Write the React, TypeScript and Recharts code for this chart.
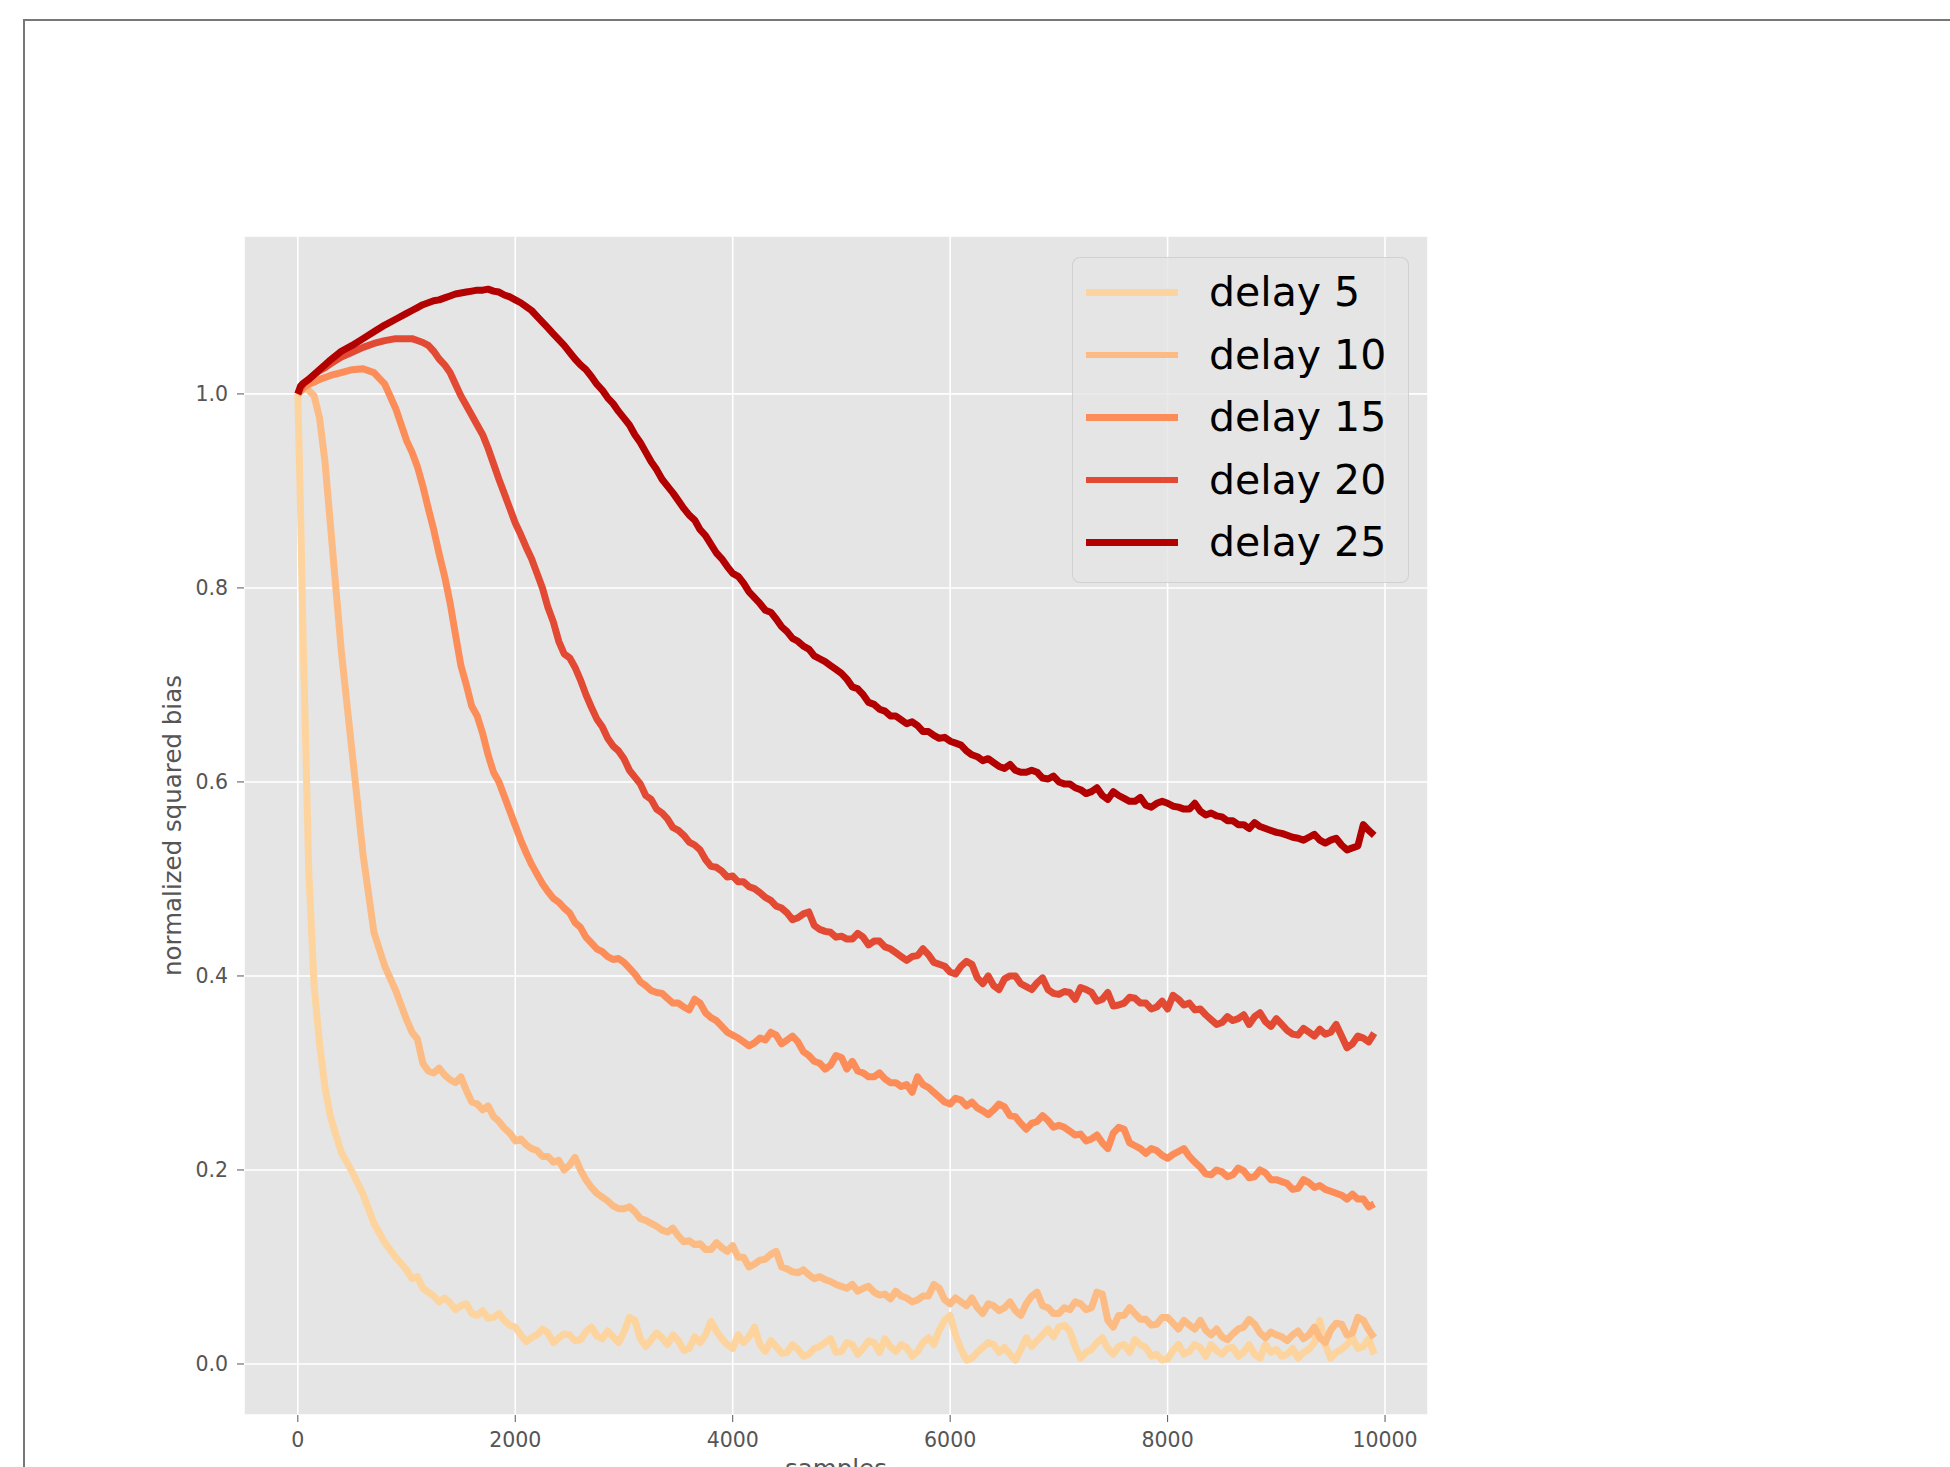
import React from "react";
import { LineChart, Line, XAxis, YAxis, CartesianGrid, Legend } from "recharts";

// sample positions: dense at the start where the curves drop fast, then every 50
const samples = [
  0, 25, 50, 75, 100, 150, 200, 250, 300, 400, 500, 600, 700, 800, 900,
  1000, 1050, 1100, 1150, 1200, 1250, 1300, 1350, 1400, 1450, 1500, 1550, 1600, 1650, 1700, 1750, 1800, 1850, 1900, 1950,
  2000, 2050, 2100, 2150, 2200, 2250, 2300, 2350, 2400, 2450, 2500, 2550, 2600, 2650, 2700, 2750, 2800, 2850, 2900, 2950,
  3000, 3050, 3100, 3150, 3200, 3250, 3300, 3350, 3400, 3450, 3500, 3550, 3600, 3650, 3700, 3750, 3800, 3850, 3900, 3950,
  4000, 4050, 4100, 4150, 4200, 4250, 4300, 4350, 4400, 4450, 4500, 4550, 4600, 4650, 4700, 4750, 4800, 4850, 4900, 4950,
  5000, 5050, 5100, 5150, 5200, 5250, 5300, 5350, 5400, 5450, 5500, 5550, 5600, 5650, 5700, 5750, 5800, 5850, 5900, 5950,
  6000, 6050, 6100, 6150, 6200, 6250, 6300, 6350, 6400, 6450, 6500, 6550, 6600, 6650, 6700, 6750, 6800, 6850, 6900, 6950,
  7000, 7050, 7100, 7150, 7200, 7250, 7300, 7350, 7400, 7450, 7500, 7550, 7600, 7650, 7700, 7750, 7800, 7850, 7900, 7950,
  8000, 8050, 8100, 8150, 8200, 8250, 8300, 8350, 8400, 8450, 8500, 8550, 8600, 8650, 8700, 8750, 8800, 8850, 8900, 8950,
  9000, 9050, 9100, 9150, 9200, 9250, 9300, 9350, 9400, 9450, 9500, 9550, 9600, 9650, 9700, 9750, 9800, 9850, 9900,
];

const delay5 = [
  1.0, 0.88, 0.74, 0.63, 0.51, 0.39, 0.33, 0.285, 0.255, 0.218, 0.198, 0.175, 0.145, 0.125, 0.11,
  0.097, 0.088, 0.09, 0.078, 0.074, 0.07, 0.064, 0.068, 0.063, 0.056, 0.06, 0.062, 0.052, 0.05, 0.055, 0.047, 0.048, 0.052, 0.045, 0.04,
  0.038, 0.03, 0.023, 0.027, 0.03, 0.036, 0.032, 0.022, 0.027, 0.031, 0.03, 0.024, 0.025, 0.033, 0.038, 0.029, 0.026, 0.034, 0.028, 0.022,
  0.033, 0.048, 0.045, 0.026, 0.018, 0.025, 0.032, 0.027, 0.02, 0.03, 0.024, 0.014, 0.016, 0.028, 0.022, 0.03, 0.044, 0.034, 0.026, 0.02,
  0.016, 0.03, 0.022, 0.028, 0.038, 0.02, 0.013, 0.024, 0.018, 0.011, 0.012, 0.02, 0.015, 0.008, 0.01, 0.016, 0.018, 0.022, 0.026, 0.012,
  0.013, 0.022, 0.02, 0.01, 0.016, 0.024, 0.022, 0.012, 0.026, 0.018, 0.013, 0.02, 0.017, 0.008, 0.013, 0.022, 0.027, 0.02, 0.035, 0.045,
  0.05, 0.03, 0.015, 0.004, 0.006, 0.012, 0.017, 0.022, 0.02, 0.012, 0.017, 0.01, 0.004, 0.015, 0.027, 0.018, 0.024, 0.03, 0.036, 0.028,
  0.038, 0.04, 0.034, 0.018, 0.006, 0.012, 0.015, 0.022, 0.027, 0.016, 0.01, 0.018, 0.02, 0.012, 0.025, 0.02, 0.017, 0.008, 0.01, 0.004,
  0.005, 0.014, 0.02, 0.01, 0.013, 0.02, 0.017, 0.008, 0.02, 0.014, 0.01, 0.016, 0.017, 0.008, 0.012, 0.02, 0.01, 0.006, 0.02, 0.012,
  0.015, 0.008, 0.01, 0.016, 0.006, 0.012, 0.015, 0.022, 0.045, 0.02, 0.006, 0.012, 0.015, 0.02, 0.027, 0.016, 0.018, 0.026, 0.01,
];

const delay10 = [
  1.0, 1.003, 1.005, 1.005, 1.004, 0.998, 0.975, 0.93, 0.865, 0.735, 0.63, 0.525, 0.445, 0.41, 0.385,
  0.355, 0.342, 0.335, 0.31, 0.302, 0.3, 0.305, 0.298, 0.293, 0.29, 0.296, 0.282, 0.27, 0.268, 0.262, 0.266, 0.255, 0.25, 0.243, 0.238,
  0.23, 0.232, 0.226, 0.222, 0.22, 0.214, 0.214, 0.208, 0.21, 0.2, 0.205, 0.213, 0.2, 0.19, 0.182, 0.176, 0.172, 0.168, 0.163, 0.16,
  0.16, 0.162, 0.157, 0.15, 0.148, 0.145, 0.142, 0.138, 0.136, 0.14, 0.132, 0.126, 0.127, 0.123, 0.124, 0.118, 0.118, 0.125, 0.12, 0.116,
  0.122, 0.11, 0.11, 0.1, 0.103, 0.107, 0.108, 0.113, 0.116, 0.1, 0.098, 0.095, 0.094, 0.097, 0.092, 0.088, 0.09, 0.087, 0.085, 0.082,
  0.08, 0.078, 0.082, 0.075, 0.078, 0.08, 0.074, 0.071, 0.072, 0.067, 0.075, 0.07, 0.068, 0.064, 0.066, 0.07, 0.07, 0.082, 0.078, 0.066,
  0.062, 0.068, 0.064, 0.06, 0.068, 0.058, 0.052, 0.062, 0.06, 0.055, 0.058, 0.064, 0.055, 0.05, 0.062, 0.07, 0.074, 0.06, 0.058, 0.052,
  0.052, 0.058, 0.056, 0.064, 0.062, 0.056, 0.058, 0.074, 0.072, 0.045, 0.038, 0.05, 0.05, 0.058, 0.052, 0.046, 0.046, 0.04, 0.041, 0.048,
  0.048, 0.042, 0.036, 0.045, 0.04, 0.036, 0.045, 0.035, 0.03, 0.036, 0.028, 0.025, 0.031, 0.036, 0.038, 0.046, 0.041, 0.032, 0.027, 0.033,
  0.03, 0.028, 0.024, 0.03, 0.034, 0.026, 0.03, 0.038, 0.027, 0.022, 0.035, 0.042, 0.041, 0.03, 0.032, 0.048, 0.045, 0.035, 0.027,
];

const delay15 = [
  1.0, 1.003, 1.006, 1.008, 1.01, 1.012, 1.015, 1.017, 1.019, 1.022, 1.025, 1.026, 1.022, 1.01, 0.985,
  0.952, 0.94, 0.925, 0.905, 0.882, 0.86, 0.835, 0.812, 0.785, 0.752, 0.72, 0.7, 0.678, 0.668, 0.65, 0.628, 0.61, 0.6, 0.585, 0.57,
  0.555, 0.54, 0.527, 0.515, 0.505, 0.495, 0.487, 0.48, 0.476, 0.47, 0.465, 0.455, 0.45, 0.44, 0.434, 0.428, 0.425, 0.42, 0.417, 0.418,
  0.414, 0.408, 0.402, 0.394, 0.39, 0.385, 0.383, 0.382, 0.377, 0.372, 0.372, 0.368, 0.365, 0.376, 0.372, 0.362, 0.357, 0.354, 0.348, 0.342,
  0.339, 0.336, 0.332, 0.328, 0.331, 0.336, 0.334, 0.342, 0.339, 0.33, 0.334, 0.338, 0.332, 0.322, 0.318, 0.312, 0.31, 0.304, 0.308, 0.318,
  0.316, 0.304, 0.312, 0.302, 0.3, 0.296, 0.296, 0.3, 0.294, 0.29, 0.29, 0.286, 0.288, 0.28, 0.296, 0.288, 0.285, 0.28, 0.275, 0.27,
  0.268, 0.274, 0.272, 0.266, 0.27, 0.264, 0.261, 0.257, 0.262, 0.268, 0.265, 0.256, 0.255, 0.248, 0.242, 0.248, 0.25, 0.256, 0.251, 0.244,
  0.246, 0.244, 0.24, 0.236, 0.237, 0.23, 0.232, 0.236, 0.228, 0.222, 0.238, 0.244, 0.242, 0.228, 0.225, 0.222, 0.217, 0.222, 0.22, 0.215,
  0.212, 0.216, 0.219, 0.222, 0.214, 0.208, 0.203, 0.196, 0.195, 0.2, 0.198, 0.193, 0.195, 0.202, 0.199, 0.192, 0.193, 0.2, 0.197, 0.19,
  0.19, 0.188, 0.186, 0.18, 0.181, 0.19, 0.187, 0.182, 0.184, 0.18, 0.178, 0.176, 0.174, 0.17, 0.175, 0.17, 0.17, 0.162, 0.165,
];

const delay20 = [
  1.0, 1.006, 1.01, 1.013, 1.015, 1.02, 1.024, 1.027, 1.031, 1.038, 1.043, 1.048, 1.052, 1.055, 1.057,
  1.057, 1.057, 1.055, 1.053, 1.05, 1.044, 1.036, 1.03, 1.022, 1.01, 0.998, 0.988, 0.978, 0.968, 0.958, 0.944, 0.928, 0.912, 0.897, 0.882,
  0.867, 0.855, 0.842, 0.83, 0.815, 0.8, 0.78, 0.765, 0.745, 0.732, 0.728, 0.718, 0.705, 0.69, 0.677, 0.665, 0.657, 0.645, 0.637, 0.632,
  0.624, 0.612, 0.605, 0.598, 0.586, 0.582, 0.572, 0.568, 0.562, 0.553, 0.55, 0.545, 0.538, 0.535, 0.53, 0.52, 0.513, 0.512, 0.508, 0.502,
  0.503, 0.497, 0.497, 0.492, 0.49, 0.486, 0.481, 0.478, 0.472, 0.47, 0.465, 0.458, 0.46, 0.464, 0.466, 0.452, 0.448, 0.446, 0.445, 0.44,
  0.441, 0.438, 0.438, 0.444, 0.44, 0.432, 0.436, 0.436, 0.43, 0.428, 0.424, 0.42, 0.416, 0.42, 0.421, 0.428, 0.422, 0.414, 0.412, 0.41,
  0.404, 0.402, 0.41, 0.415, 0.412, 0.398, 0.392, 0.4, 0.39, 0.386, 0.397, 0.4, 0.4, 0.392, 0.389, 0.386, 0.393, 0.398, 0.386, 0.382,
  0.381, 0.384, 0.383, 0.376, 0.388, 0.386, 0.383, 0.374, 0.376, 0.383, 0.369, 0.37, 0.372, 0.378, 0.377, 0.372, 0.372, 0.366, 0.368, 0.374,
  0.366, 0.38, 0.376, 0.37, 0.372, 0.365, 0.366, 0.36, 0.355, 0.35, 0.352, 0.358, 0.354, 0.356, 0.36, 0.35, 0.358, 0.362, 0.353, 0.348,
  0.356, 0.35, 0.344, 0.34, 0.339, 0.346, 0.342, 0.338, 0.345, 0.34, 0.342, 0.35, 0.338, 0.326, 0.33, 0.338, 0.336, 0.332, 0.341,
];

const delay25 = [
  1.0, 1.008, 1.011, 1.013, 1.015, 1.02, 1.025, 1.03, 1.035, 1.044, 1.05, 1.057, 1.064, 1.071, 1.077,
  1.083, 1.086, 1.089, 1.092, 1.094, 1.096, 1.097, 1.099, 1.101, 1.103, 1.104, 1.105, 1.106, 1.107, 1.107, 1.108, 1.106, 1.105, 1.102, 1.1,
  1.097, 1.094, 1.09, 1.086, 1.08, 1.074, 1.068, 1.062, 1.056, 1.05, 1.043, 1.036, 1.03, 1.025, 1.018, 1.01, 1.004, 0.996, 0.99, 0.982,
  0.975, 0.968, 0.958, 0.95, 0.94, 0.93, 0.922, 0.912, 0.905, 0.898, 0.89, 0.882, 0.875, 0.87, 0.86, 0.854, 0.845, 0.836, 0.83, 0.822,
  0.815, 0.812, 0.805, 0.796, 0.79, 0.784, 0.777, 0.775, 0.768, 0.76, 0.755, 0.748, 0.745, 0.74, 0.737, 0.73, 0.727, 0.724, 0.72, 0.716,
  0.712, 0.706, 0.698, 0.696, 0.69, 0.682, 0.68, 0.675, 0.673, 0.668, 0.668, 0.664, 0.66, 0.662, 0.658, 0.652, 0.652, 0.648, 0.645, 0.646,
  0.642, 0.64, 0.638, 0.632, 0.628, 0.626, 0.622, 0.624, 0.62, 0.616, 0.614, 0.618, 0.612, 0.61, 0.61, 0.612, 0.61, 0.604, 0.603, 0.606,
  0.6, 0.598, 0.598, 0.594, 0.592, 0.588, 0.59, 0.594, 0.586, 0.582, 0.59, 0.586, 0.583, 0.58, 0.58, 0.584, 0.576, 0.574, 0.578, 0.58,
  0.578, 0.575, 0.574, 0.572, 0.572, 0.578, 0.57, 0.566, 0.568, 0.565, 0.564, 0.56, 0.56, 0.556, 0.556, 0.552, 0.558, 0.554, 0.552, 0.55,
  0.548, 0.547, 0.545, 0.543, 0.542, 0.54, 0.543, 0.546, 0.54, 0.537, 0.54, 0.542, 0.535, 0.53, 0.532, 0.534, 0.556, 0.55, 0.545,
];

const xTicks = [0, 2000, 4000, 6000, 8000, 10000];
const yTicks = [0, 0.2, 0.4, 0.6, 0.8, 1.0];

const series = [
  { key: "d5", name: "delay 5", color: "#fdd49e", values: delay5 },
  { key: "d10", name: "delay 10", color: "#fdbb84", values: delay10 },
  { key: "d15", name: "delay 15", color: "#fc8d59", values: delay15 },
  { key: "d20", name: "delay 20", color: "#e34a33", values: delay20 },
  { key: "d25", name: "delay 25", color: "#b30000", values: delay25 },
];

const data = samples.map((x, i) => {
  const row: any = { x };
  series.forEach((s) => (row[s.key] = s.values[i]));
  return row;
});

const font = "'DejaVu Sans', sans-serif";

const LegendBox = () => (
  <div
    style={{
      width: 337,
      height: 326,
      boxSizing: "border-box",
      border: "1.5px solid rgba(204,204,204,0.8)",
      borderRadius: 8,
      background: "rgba(229,229,229,0.8)",
      paddingTop: 3,
      fontFamily: font,
      fontSize: 41,
    }}
  >
    {series.map((s) => (
      <div key={s.key} style={{ position: "relative", height: 62.5 }}>
        <span
          style={{
            position: "absolute",
            left: 13,
            top: 28.25,
            width: 92,
            height: 6.5,
            background: s.color,
          }}
        />
        <span
          style={{
            position: "absolute",
            left: 136,
            top: 0,
            lineHeight: "62.5px",
            color: "#000",
            whiteSpace: "nowrap",
          }}
        >
          {s.name}
        </span>
      </div>
    ))}
  </div>
);

export default function App() {
  return (
    <div
      style={{
        position: "absolute",
        left: 0,
        top: 0,
        width: 1950,
        height: 1467,
        background: "#fff",
        overflow: "hidden",
      }}
    >
      <div
        style={{
          position: "absolute",
          left: 23,
          top: 19,
          width: 1927,
          height: 1448,
          borderTop: "2px solid #777",
          borderLeft: "2px solid #777",
          boxSizing: "border-box",
        }}
      />
      <div style={{ position: "absolute", left: 0, top: 0 }}>
        <LineChart
          width={1950}
          height={1467}
          data={data}
          margin={{ top: 236, right: 522, bottom: 0, left: 144 }}
        >
          <CartesianGrid fill="#E5E5E5" fillOpacity={1} stroke="#FFFFFF" strokeWidth={1.6} />
          <XAxis
            dataKey="x"
            type="number"
            domain={[-495, 10395]}
            ticks={xTicks}
            allowDataOverflow
            height={52}
            axisLine={false}
            tickSize={7}
            tickMargin={10}
            tickLine={{ stroke: "#555" }}
            tick={{ fill: "#555", fontSize: 20.5, fontFamily: font }}
            label={{
              value: "samples",
              position: "insideBottom",
              offset: -10,
              fill: "#555",
              fontSize: 24.5,
              fontFamily: font,
            }}
          />
          <YAxis
            type="number"
            domain={[-0.0526, 1.1628]}
            ticks={yTicks}
            allowDataOverflow
            width={100}
            axisLine={false}
            tickSize={7}
            tickMargin={9}
            tickLine={{ stroke: "#555" }}
            tickFormatter={(v) => v.toFixed(1)}
            tick={{ fill: "#555", fontSize: 20.5, fontFamily: font }}
            label={{
              value: "normalized squared bias",
              angle: -90,
              position: "insideLeft",
              offset: 28,
              fill: "#555",
              fontSize: 24.5,
              fontFamily: font,
              style: { textAnchor: "middle" },
            }}
          />
          {series.map((s) => (
            <Line
              key={s.key}
              type="linear"
              dataKey={s.key}
              name={s.name}
              stroke={s.color}
              strokeWidth={7}
              strokeLinejoin="round"
              dot={false}
              activeDot={false}
              isAnimationActive={false}
            />
          ))}
          <Legend
            layout="vertical"
            align="center"
            verticalAlign="middle"
            content={<LegendBox />}
            wrapperStyle={{ left: 1072, top: 257, width: 337, height: 326 }}
          />
        </LineChart>
      </div>
    </div>
  );
}
